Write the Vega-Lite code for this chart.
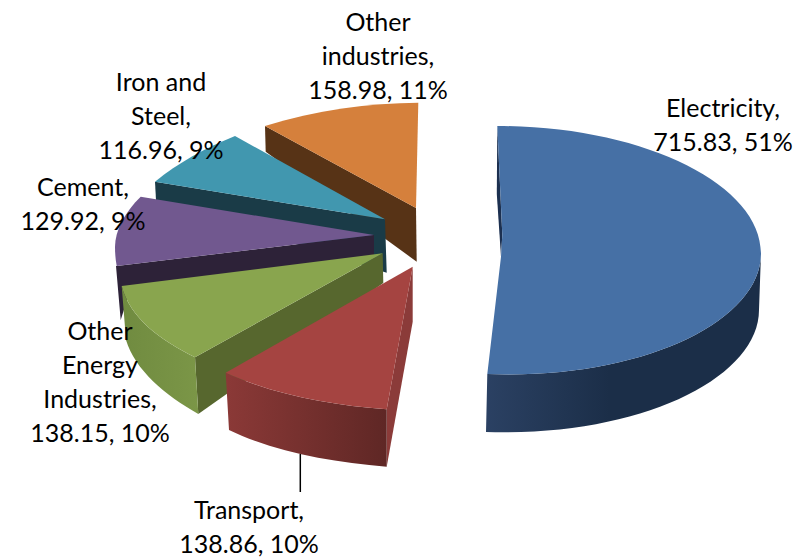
{
"$schema":"https://vega.github.io/schema/vega-lite/v6.json",
"width":808,"height":558,"autosize":{"type":"fit","contains":"padding"},"padding":0,"background":"white",
"config":{"view":{"stroke":null}},
"data":{"values":[
{"slice":"Other industries","value":158.98,"pct":11,"label":"Other\nindustries,\n158.98, 11%"},
{"slice":"Iron and Steel","value":116.96,"pct":9,"label":"Iron and\nSteel,\n116.96, 9%"},
{"slice":"Cement","value":129.92,"pct":9,"label":"Cement,\n129.92, 9%"},
{"slice":"Other Energy Industries","value":138.15,"pct":10,"label":"Other\nEnergy\nIndustries,\n138.15, 10%"},
{"slice":"Transport","value":138.86,"pct":10,"label":"Transport,\n138.86, 10%"},
{"slice":"Electricity","value":715.83,"pct":51,"label":"Electricity,\n715.83, 51%"}
]},
"resolve":{"scale":{"shape":"independent","fill":"independent"}},
"layer":[
{"mark":{"type":"point","filled":true,"size":4,"opacity":1,"strokeWidth":0},
 "encoding":{"x":{"value":404},"y":{"value":279},
  "shape":{"field":"slice","type":"nominal","legend":null,"scale":{"domain":["Other industries","Iron and Steel","Cement","Other Energy Industries","Transport","Electricity"],"range":[
   "M-139,-153 L12,-71 L12.7,-17.3 L-138.3,-127.3 Z",
   "M-249,-97.3 L-19,-59.7 L-17.3,-6.3 L-248,-79 Z",
   "M-287.3,-13 L-30,-44 L-30,-20 L-275,15 L-283.3,41 L-288,-13 Z",
   "M-209,78.3 L-21.3,-25.7 L-20.7,4 L-205.7,135 Z",
   "M8.7,-12.3 L8.7,42.7 L-17.3,187.7 L-17.3,130.3 Z",
   "M93.3,-153 L92.8,-85 L97,-22.3 L98.3,-44 Z"]}},
  "fill":{"field":"slice","type":"nominal","legend":null,"scale":{"domain":["Other industries","Iron and Steel","Cement","Other Energy Industries","Transport","Electricity"],"range":["#573316","#1A3B47","#2D2238","#57672E","#8B3B39","#1C3050"]}}}},
{"transform":[{"filter":"datum.slice==='Other Energy Industries'"}],
 "mark":{"type":"point","filled":true,"size":4,"opacity":1,"strokeWidth":0,"x":404,"y":279,
  "shape":"M-282.3,7 C-274,39 -244,61 -209,78.3 L-205.7,135 C-239,116 -269,91 -278,61 Z",
  "fill":{"gradient":"linear","x1":0,"y1":0,"x2":1,"y2":0,"stops":[{"offset":0,"color":"#708B40"},{"offset":1,"color":"#7B9647"}]}}},
{"transform":[{"filter":"datum.slice==='Transport'"}],
 "mark":{"type":"point","filled":true,"size":4,"opacity":1,"strokeWidth":0,"x":404,"y":279,
  "shape":"M-178.3,93.7 C-129,116 -74,126 -17.3,130.3 L-17.3,187.7 C-74,183 -129,173 -175,151 Z",
  "fill":{"gradient":"linear","x1":0,"y1":0,"x2":1,"y2":0,"stops":[{"offset":0,"color":"#8B3937"},{"offset":1,"color":"#5F2725"}]}}},
{"transform":[{"filter":"datum.slice==='Electricity'"}],
 "mark":{"type":"point","filled":true,"size":4,"opacity":1,"strokeWidth":0,"x":404,"y":279,
  "shape":"M83.3,95 C236,101 357,43 357,-25.7 L355,31 C355,99 236,158 82,153 Z",
  "fill":{"gradient":"linear","x1":0,"y1":0,"x2":1,"y2":0,"stops":[{"offset":0,"color":"#2B4163"},{"offset":0.45,"color":"#1B2E48"},{"offset":1,"color":"#1B2E48"}]}}},
{"mark":{"type":"point","filled":true,"size":4,"opacity":1,"strokeWidth":0},
 "encoding":{"x":{"value":404},"y":{"value":279},
  "shape":{"field":"slice","type":"nominal","legend":null,"scale":{"domain":["Other industries","Iron and Steel","Cement","Other Energy Industries","Transport","Electricity"],"range":[
   "M-139,-153 C-89,-169 -34,-176 14.3,-176.3 L12,-71 Z",
   "M-169,-143 C-199,-131 -226,-116 -249,-97.3 L-19,-59.7 Z",
   "M-263.3,-82.3 C-279,-67 -289,-49 -289,-32 C-289,-26 -288.5,-19 -287.3,-13 L-30,-44 Z",
   "M-282.3,7 C-274,39 -244,61 -209,78.3 L-21.3,-25.7 Z",
   "M-178.3,93.7 C-129,116 -74,126 -17.3,130.3 L8.7,-12.3 Z",
   "M93.3,-153 C238,-153 357,-95 357,-25.7 C357,43 236,101 83.3,95 L97,-22.3 L98.3,-44 Z"]}},
  "fill":{"field":"slice","type":"nominal","legend":null,"scale":{"domain":["Other industries","Iron and Steel","Cement","Other Energy Industries","Transport","Electricity"],"range":["#D5803C","#4197AF","#71588F","#89A54E","#A54441","#4670A5"]}}}},
{"transform":[{"filter":"datum.slice==='Transport'"}],
 "mark":{"type":"rule","color":"#000000","strokeWidth":1.5},"encoding":{"x":{"value":300.3},"y":{"value":454},"y2":{"value":492}}},
{"transform":[{"filter":"datum.slice==='Electricity'"}],"mark":{"type":"text","x":723,"y":117,"font":"Lato","fontSize":25,"lineHeight":34,"lineBreak":"\n","align":"center","baseline":"alphabetic","color":"#000000"},"encoding":{"text":{"field":"label"}}},
{"transform":[{"filter":"datum.slice==='Other industries'"}],"mark":{"type":"text","x":378,"y":31,"font":"Lato","fontSize":25,"lineHeight":34,"lineBreak":"\n","align":"center","baseline":"alphabetic","color":"#000000"},"encoding":{"text":{"field":"label"}}},
{"transform":[{"filter":"datum.slice==='Iron and Steel'"}],"mark":{"type":"text","x":161,"y":91,"font":"Lato","fontSize":25,"lineHeight":34,"lineBreak":"\n","align":"center","baseline":"alphabetic","color":"#000000"},"encoding":{"text":{"field":"label"}}},
{"transform":[{"filter":"datum.slice==='Cement'"}],"mark":{"type":"text","x":83,"y":196,"font":"Lato","fontSize":25,"lineHeight":34,"lineBreak":"\n","align":"center","baseline":"alphabetic","color":"#000000"},"encoding":{"text":{"field":"label"}}},
{"transform":[{"filter":"datum.slice==='Other Energy Industries'"}],"mark":{"type":"text","x":100,"y":340,"font":"Lato","fontSize":25,"lineHeight":34,"lineBreak":"\n","align":"center","baseline":"alphabetic","color":"#000000"},"encoding":{"text":{"field":"label"}}},
{"transform":[{"filter":"datum.slice==='Transport'"}],"mark":{"type":"text","x":249,"y":519,"font":"Lato","fontSize":25,"lineHeight":34,"lineBreak":"\n","align":"center","baseline":"alphabetic","color":"#000000"},"encoding":{"text":{"field":"label"}}}
]
}
